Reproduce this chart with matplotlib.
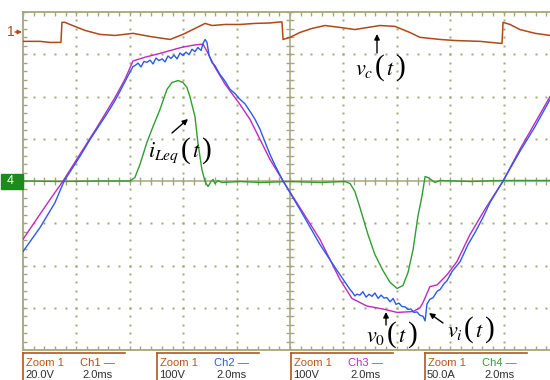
import matplotlib
matplotlib.use('Agg')
import matplotlib.pyplot as plt
from matplotlib.collections import LineCollection
from matplotlib.offsetbox import TextArea, HPacker, AnnotationBbox
import numpy as np

plt.rcParams['mathtext.fontset'] = 'stix'
plt.rcParams['font.family'] = ['Liberation Sans', 'DejaVu Sans']

# ---------------- data (time in ms, values in channel units) ----------------
# Ch1: vc(t), 20 V/div, marker offset
ch1_t = [0, 0.64, 1.01, 1.42, 1.46, 1.57, 1.76, 2.32, 2.88, 3.45, 4.12, 4.76, 5.51, 5.99, 6.44,
         6.82, 7.08, 7.57, 8.13, 8.69, 9.25, 9.63, 9.70, 9.74, 10.0, 10.37, 10.82, 11.31, 11.87,
         12.43, 12.92, 13.37, 13.93, 14.49, 14.87, 15.24, 15.62, 16.18, 17.12, 17.94, 17.98,
         18.24, 18.61, 19.18, 19.74, 20.0]
ch1_v = [-4.7, -4.7, -5.2, -5.2, 4.3, 4.3, 3.3, 0.5, -1.4, -1.9, -0.9, -2.4, -3.8, -1.4, 1.4,
         3.8, 2.8, 3.3, 3.3, 3.8, 4.0, 4.5, 4.5, -3.8, -2.8, -0.5, 1.4, 2.8, 1.9,
         0.9, 1.9, 2.8, 2.4, -0.5, -2.8, -3.3, -3.8, -4.3, -4.7, -5.7, 4.3,
         3.3, 0.9, -0.9, -1.9, -2.2]

# Ch2: vi(t), 100 V/div
ch2_t = [0, 0.64, 1.20, 1.54, 2.13, 2.51, 2.88, 3.07, 3.26, 3.45, 3.63, 3.90, 4.12,
         4.19, 4.31, 4.42, 4.53, 4.64, 4.76, 4.87, 4.98, 5.09, 5.21, 5.32, 5.43, 5.54, 5.66,
         5.77, 5.88, 5.99, 6.10, 6.22, 6.33, 6.44, 6.55, 6.67, 6.74, 6.82, 6.89, 6.97,
         7.08, 7.19, 7.38, 7.57, 7.75, 7.94, 8.13, 8.31, 8.50, 8.69, 8.88, 9.06, 9.25, 9.44,
         9.74, 10.37, 11.12, 11.69, 12.25,
         12.32, 12.43, 12.51, 12.62, 12.73, 12.85, 12.96, 13.07, 13.18, 13.30, 13.41, 13.52,
         13.63, 13.75, 13.86, 13.97, 14.08, 14.19, 14.31, 14.42, 14.53, 14.64, 14.76, 14.87,
         14.98, 15.06, 15.13, 15.24, 15.36, 15.51, 15.62, 15.77, 15.88, 16.07, 16.37, 16.67,
         16.93, 17.23, 17.49, 17.98, 18.61, 19.18, 19.74, 20.0]
ch2_v = [-167, -110, -51, 0, 58, 98, 134, 152, 171, 191, 212, 245, 271,
         273, 279, 270, 283, 281, 286, 277, 291, 285, 289, 282, 296, 290, 298,
         289, 303, 297, 305, 299, 312, 306, 316, 309, 325, 335, 328, 297,
         280, 273, 252, 236, 217, 207, 193, 183, 165, 146, 122, 93, 63, 37,
         0, -67, -150, -205, -257,
         -262, -272, -268, -270, -262, -275, -268, -273, -265, -278, -270, -277,
         -276, -286, -278, -292, -289, -297, -298, -304, -303, -311, -310, -318,
         -320, -331, -291, -280, -276, -261, -257, -243, -236, -214, -191, -150,
         -122, -86, -51, 0, 70, 129, 193, 212]

# Ch3: v0(t), 100 V/div
ch3_t = [0, 0.45, 1.01, 1.50, 2.13, 2.77, 3.45, 3.82, 4.12, 4.57, 5.13, 5.69, 5.99, 6.44,
         6.74, 6.89, 7.19, 7.57, 8.13, 8.50, 8.88, 9.25, 9.74, 10.37, 11.12, 11.87, 12.32,
         12.88, 13.48, 14.01, 14.61, 14.87, 14.98, 15.24, 15.51, 15.88, 16.25, 16.74, 17.30,
         17.98, 18.61, 19.18, 19.74, 20.0]
ch3_v = [-138, -96, -44, 0, 63, 127, 198, 241, 284, 293, 302, 312, 317, 322,
         324, 307, 269, 229, 181, 146, 98, 51, 0, -63, -138, -233, -278,
         -296, -303, -311, -309, -300, -288, -250, -246, -222, -191, -127, -67,
         0, 75, 138, 200, 218]

# Ch4: iLeq(t), 50 A/div
ch4_t = [0, 1.39, 2.88, 4.01, 4.19, 4.38, 4.64, 4.87, 5.13, 5.39, 5.58, 5.81, 5.99, 6.14,
         6.25, 6.44, 6.55, 6.70, 6.82, 6.93, 7.04, 7.12, 7.19, 7.30, 7.45, 8.13, 8.88, 10.0,
         11.12, 12.06, 12.25, 12.43, 12.62, 12.92, 13.18, 13.48, 13.75, 14.01, 14.23, 14.42,
         14.61, 14.79, 14.94, 15.06, 15.17, 15.28, 15.43, 15.62, 16.74, 17.87, 19.74, 20.0]
ch4_i = [0, -0.6, 0, 0, 4.1, 19.5, 45.6, 64.5, 84.6, 108.3, 116.6, 118.9, 116.6, 110.7,
         100.0, 76.3, 45.6, 13.6, -0.6, -6.5, -0.6, 1.8, -3.0, 0.6, -1.8, -0.6, -1.8, -0.6,
         -1.8, -0.6, -3.0, -12.4, -31.4, -63.3, -87.0, -105.9, -120.1, -127.2, -123.7, -108.3,
         -81.1, -42.0, -18.3, 5.3, 4.1, 1.8, -1.8, 0.6, -0.6, 0.6, 0.6, 0.6]

ms_per_div = 2.0
ch1_scale, ch1_offset = 20.0, 3.54
ch2_scale = 100.0
ch3_scale = 100.0
ch4_scale = 50.0

box_labels = [("Ch1", "20.0V"), ("Ch2", "100V"), ("Ch3", "100V"), ("Ch4", "50.0A")]

# ---------------- colours ----------------
C_GRID = '#a6a67c'
C_CH1 = '#b04818'
C_CH2 = '#2a5ae6'
C_CH3 = '#c028c0'
C_CH4 = '#2f9e2f'
C_BOX = '#b5561f'

W, H = 550, 380
fig = plt.figure(figsize=(W / 100, H / 100), dpi=100)
fig.patch.set_facecolor('white')
ax = fig.add_axes([23 / W, 30 / H, 534 / W, 338 / H])
ax.set_xlim(0, 10)
ax.set_ylim(-4, 4)
ax.set_xticks([]); ax.set_yticks([])
for s in ax.spines.values():
    s.set_color(C_GRID)
    s.set_linewidth(1.3)

# dotted graticule
minor_x = np.round(np.arange(0, 10.001, 0.2), 3)
minor_y = np.round(np.arange(-4, 4.001, 0.2), 3)
for gx in range(1, 10):
    if gx == 5:
        continue
    ax.plot(np.full(len(minor_y), gx), minor_y, ls='none', marker='s', ms=1.6,
            color=C_GRID, mec='none', zorder=1)
for gy in range(-3, 4):
    if gy == 0:
        continue
    ax.plot(minor_x, np.full(len(minor_x), gy), ls='none', marker='s', ms=1.6,
            color=C_GRID, mec='none', zorder=1)

# centre cross with ticks
ax.axhline(0, color=C_GRID, lw=1.1, zorder=1)
ax.axvline(5, color=C_GRID, lw=1.1, zorder=1)
segs = []
tx, ty = 0.075, 0.095
for x in minor_x:
    segs.append([(x, -ty), (x, ty)])
    segs.append([(x, 4), (x, 4 - ty)])
    segs.append([(x, -4), (x, -4 + ty)])
for y in minor_y:
    segs.append([(5 - tx, y), (5 + tx, y)])
    segs.append([(0, y), (tx, y)])
ax.add_collection(LineCollection(segs, colors=C_GRID, linewidths=1.0, zorder=1))

def tdiv(t):
    return np.asarray(t) / ms_per_div

# traces
ax.plot(tdiv(ch4_t), np.asarray(ch4_i) / ch4_scale, color=C_CH4, lw=1.0, zorder=3)
ax.plot(tdiv(ch3_t), np.asarray(ch3_v) / ch3_scale, color=C_CH3, lw=1.0, zorder=3)
ax.plot(tdiv(ch2_t), np.asarray(ch2_v) / ch2_scale, color=C_CH2, lw=1.0, zorder=4)
ax.plot(tdiv(ch1_t), np.asarray(ch1_v) / ch1_scale + ch1_offset, color=C_CH1, lw=1.1, zorder=3)

def F(px, py):
    return (px / W, 1 - py / H)

def label(xy, var):
    parts = [TextArea(var, textprops=dict(fontsize=16)),
             TextArea('(', textprops=dict(fontsize=21, family='Liberation Serif')),
             TextArea(r'$t$', textprops=dict(fontsize=16)),
             TextArea(')', textprops=dict(fontsize=21, family='Liberation Serif'))]
    box = HPacker(children=parts, align='baseline', pad=0, sep=1)
    ab = AnnotationBbox(box, F(*xy), xycoords='figure fraction', frameon=False,
                        box_alignment=(0.5, 0.5), pad=0)
    fig.add_artist(ab)

# annotations
arrow = dict(arrowstyle='-|>', color='black', lw=1.0, mutation_scale=8, shrinkA=0, shrinkB=0)
ax.annotate('', xy=F(377, 34), xytext=F(377, 53), xycoords='figure fraction',
            textcoords='figure fraction', arrowprops=arrow)
label((380, 68), r'$v_c$')
ax.annotate('', xy=F(188, 119), xytext=F(172, 133), xycoords='figure fraction',
            textcoords='figure fraction', arrowprops=arrow)
label((180, 151), r'$i_{Leq}$')
ax.annotate('', xy=F(386, 312), xytext=F(386, 325), xycoords='figure fraction',
            textcoords='figure fraction', arrowprops=arrow)
label((392, 335), r'$v_0$')
ax.annotate('', xy=F(429, 313), xytext=F(443, 323), xycoords='figure fraction',
            textcoords='figure fraction', arrowprops=arrow)
label((471, 330), r'$v_i$')

# channel markers on the left
fig.text(*F(11, 32), '1', color=C_CH1, fontsize=10, ha='center', va='center')
ax.annotate('', xy=F(22, 32), xytext=F(15, 32), xycoords='figure fraction',
            textcoords='figure fraction',
            arrowprops=dict(arrowstyle='-|>', color=C_CH1, lw=1.0, mutation_scale=6,
                            shrinkA=0, shrinkB=0))
fig.patches.append(plt.Rectangle(F(1, 189), 22 / W, 15 / H, transform=fig.transFigure,
                                 facecolor='#1e8a1e', edgecolor='#1e8a1e', zorder=5))
fig.text(*F(10, 181.5), '4', color='white', fontsize=9, ha='center', va='center', zorder=6)
ax.annotate('', xy=F(22, 181.5), xytext=F(15, 181.5), xycoords='figure fraction',
            textcoords='figure fraction',
            arrowprops=dict(arrowstyle='-|>', color='white', lw=1.0, mutation_scale=6,
                            shrinkA=0, shrinkB=0), zorder=7)

# bottom info boxes
ch_colors = [C_CH1, C_CH2, C_CH3, C_CH4]
for i, (name, scale) in enumerate(box_labels):
    x0 = 23 + 134 * i
    fig.add_artist(plt.Line2D([x0 / W, (x0 + 102) / W], [1 - 353 / H, 1 - 353 / H],
                              transform=fig.transFigure, color=C_BOX, lw=1.2))
    fig.add_artist(plt.Line2D([x0 / W, x0 / W], [1 - 353 / H, 0],
                              transform=fig.transFigure, color=C_BOX, lw=1.2))
    fig.text(*F(x0 + 3, 362.5), 'Zoom 1', color=C_BOX, fontsize=8, ha='left', va='center')
    fig.text(*F(x0 + 57, 362.5), name + ' \u2014', color=ch_colors[i], fontsize=8,
             ha='left', va='center')
    fig.text(*F(x0 + 2, 375), scale, color='#303030', fontsize=8, ha='left', va='center')
    fig.text(*F(x0 + 59, 375), '2.0ms', color='#303030', fontsize=8, ha='left', va='center')

fig.savefig('out.png', dpi=100, facecolor='white')
